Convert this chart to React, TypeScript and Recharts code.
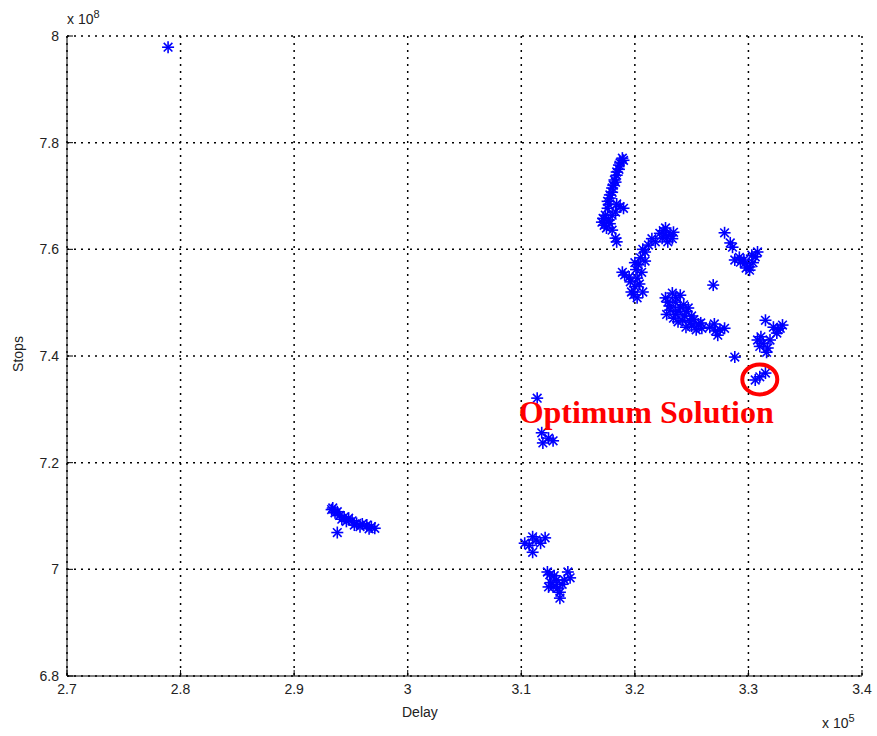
import React from "react";
import {
  ScatterChart,
  Scatter,
  XAxis,
  YAxis,
  CartesianGrid,
  ReferenceDot,
} from "recharts";

// ── Data (delay in 1e5 units, stops in 1e8 units) ──────────────────

const xTicks = [2.7, 2.8, 2.9, 3, 3.1, 3.2, 3.3, 3.4];
const yTicks = [6.8, 7, 7.2, 7.4, 7.6, 7.8, 8];

const lonePoint = [[2.789, 7.979]];

const leftCluster = [
  [2.933, 7.112], [2.936, 7.106], [2.94, 7.101], [2.944, 7.098],
  [2.948, 7.096], [2.951, 7.091], [2.955, 7.086], [2.96, 7.085],
  [2.964, 7.083], [2.968, 7.08], [2.971, 7.077], [2.938, 7.069],
  [2.946, 7.09], [2.958, 7.08], [2.934, 7.115], [2.938, 7.108],
  [2.942, 7.094], [2.953, 7.083], [2.966, 7.076],
];

const midUpperCluster = [
  [3.114, 7.321], [3.118, 7.256], [3.119, 7.237], [3.128, 7.241],
  [3.124, 7.246],
];

const midLowerCluster = [
  [3.103, 7.049], [3.11, 7.061], [3.121, 7.059], [3.11, 7.032],
  [3.117, 7.049], [3.107, 7.045], [3.113, 7.055],
  [3.123, 6.995], [3.124, 6.967], [3.131, 6.98], [3.134, 6.946],
  [3.141, 6.995], [3.138, 6.98], [3.132, 6.965], [3.128, 6.967],
  [3.134, 6.957], [3.143, 6.984], [3.126, 6.975], [3.136, 6.972],
  [3.129, 6.988], [3.125, 6.99],
];

const tallStreak = [
  [3.19, 7.767], [3.186, 7.758], [3.184, 7.745], [3.184, 7.739],
  [3.183, 7.726], [3.18, 7.715], [3.18, 7.707], [3.178, 7.696],
  [3.176, 7.69], [3.176, 7.677], [3.187, 7.68], [3.19, 7.677],
  [3.18, 7.664], [3.174, 7.664], [3.171, 7.651], [3.172, 7.658],
  [3.175, 7.64], [3.18, 7.636], [3.183, 7.621], [3.184, 7.614],
  [3.178, 7.648], [3.189, 7.771], [3.182, 7.73], [3.178, 7.702],
  [3.187, 7.762], [3.186, 7.75], [3.181, 7.72], [3.177, 7.684],
  [3.183, 7.67], [3.173, 7.645], [3.177, 7.655], [3.184, 7.685],
];

const sCluster = [
  [3.227, 7.64], [3.231, 7.627], [3.224, 7.621], [3.218, 7.614],
  [3.212, 7.608], [3.209, 7.595], [3.205, 7.584], [3.203, 7.571],
  [3.206, 7.557], [3.202, 7.546], [3.191, 7.552], [3.189, 7.557],
  [3.196, 7.539], [3.197, 7.52], [3.202, 7.509], [3.207, 7.52],
  [3.234, 7.632], [3.229, 7.614], [3.228, 7.625], [3.222, 7.63],
  [3.2, 7.53], [3.195, 7.548], [3.215, 7.62], [3.207, 7.6],
  [3.209, 7.578], [3.201, 7.562], [3.204, 7.535], [3.199, 7.515],
  [3.233, 7.62], [3.225, 7.635], [3.2, 7.575],
];

const bigBlob = [
  [3.233, 7.518], [3.24, 7.514], [3.229, 7.501], [3.236, 7.501],
  [3.243, 7.496], [3.231, 7.486], [3.238, 7.484], [3.245, 7.483],
  [3.25, 7.475], [3.234, 7.471], [3.242, 7.467], [3.249, 7.464],
  [3.256, 7.46], [3.245, 7.454], [3.254, 7.449], [3.259, 7.452],
  [3.227, 7.509], [3.236, 7.51], [3.231, 7.494], [3.24, 7.491],
  [3.247, 7.49], [3.236, 7.478], [3.244, 7.475], [3.252, 7.468],
  [3.238, 7.464], [3.25, 7.456], [3.258, 7.462], [3.228, 7.478],
];

const smallBlob = [
  [3.266, 7.454], [3.275, 7.449], [3.279, 7.452], [3.273, 7.439],
  [3.27, 7.46], [3.271, 7.447], [3.269, 7.533],
];

const upperRightCluster = [
  [3.279, 7.631], [3.284, 7.612], [3.286, 7.604], [3.288, 7.58],
  [3.293, 7.576], [3.297, 7.574], [3.301, 7.567], [3.306, 7.586],
  [3.308, 7.595], [3.303, 7.589], [3.298, 7.565], [3.301, 7.561],
  [3.292, 7.585], [3.296, 7.58], [3.304, 7.575],
];

const rightCluster = [
  [3.288, 7.398], [3.315, 7.467], [3.326, 7.449], [3.313, 7.424],
  [3.308, 7.43], [3.317, 7.415], [3.316, 7.407], [3.322, 7.454],
  [3.33, 7.458], [3.325, 7.443], [3.311, 7.436], [3.31, 7.418],
  [3.319, 7.43], [3.328, 7.452],
];

const optimumCluster = [
  [3.306, 7.355], [3.315, 7.368], [3.31, 7.361],
];

const optimumCenter = { x: 3.31, y: 7.356 };
const optimumLabel = { x: 3.21, y: 7.295, text: "Optimum Solution" };

const allPoints = [
  ...lonePoint, ...leftCluster, ...midUpperCluster, ...midLowerCluster,
  ...tallStreak, ...sCluster, ...bigBlob, ...smallBlob,
  ...upperRightCluster, ...rightCluster, ...optimumCluster,
].map(([x, y]) => ({ x, y }));

// ── Marker ─────────────────────────────────────────────────────────

function Asterisk(props: any) {
  const { cx, cy } = props;
  const r = 6;
  const d = r * 0.72;
  return (
    <g stroke="#0000ff" strokeWidth={1.6}>
      <line x1={cx - r} y1={cy} x2={cx + r} y2={cy} />
      <line x1={cx} y1={cy - r} x2={cx} y2={cy + r} />
      <line x1={cx - d} y1={cy - d} x2={cx + d} y2={cy + d} />
      <line x1={cx - d} y1={cy + d} x2={cx + d} y2={cy - d} />
    </g>
  );
}

const tickStyle = { fill: "#222", fontSize: 14, fontFamily: "Liberation Sans, Arial" };

export default function App() {
  return (
    <div style={{ position: "absolute", left: 0, top: 0, width: 877, height: 736, background: "#fff" }}>
      <ScatterChart
        width={877}
        height={736}
        margin={{ top: 36, right: 15, bottom: 30, left: 17 }}
      >
        <CartesianGrid stroke="#000" strokeDasharray="2 5" strokeWidth={1.5} />
        <XAxis
          type="number"
          dataKey="x"
          domain={[2.7, 3.4]}
          ticks={xTicks}
          tick={tickStyle}
          axisLine={{ stroke: "#000" }}
          tickLine={{ stroke: "#000" }}
          tickSize={-6}
          tickMargin={14}
          height={30}
        />
        <YAxis
          type="number"
          dataKey="y"
          domain={[6.8, 8]}
          ticks={yTicks}
          tick={tickStyle}
          axisLine={{ stroke: "#000" }}
          tickLine={{ stroke: "#000" }}
          tickSize={-6}
          tickMargin={14}
          width={50}
        />
        <Scatter data={allPoints} shape={<Asterisk />} isAnimationActive={false} />
        <ReferenceDot
          x={optimumCenter.x}
          y={optimumCenter.y}
          r={1}
          shape={(p: any) => (
            <ellipse cx={p.cx} cy={p.cy} rx={17.5} ry={15} fill="none" stroke="#ff0000" strokeWidth={4} />
          )}
        />
        <ReferenceDot
          x={optimumLabel.x}
          y={optimumLabel.y}
          r={1}
          shape={(p: any) => (
            <text
              x={p.cx}
              y={p.cy}
              textAnchor="middle"
              dominantBaseline="central"
              fill="#ff0000"
              fontFamily="Liberation Serif, Times New Roman, serif"
              fontWeight="bold"
              fontSize={32}
            >
              {optimumLabel.text}
            </text>
          )}
        />
      </ScatterChart>
      <div style={{ position: "absolute", left: 402, top: 704, fontFamily: "Liberation Sans, Arial", fontSize: 14, color: "#222" }}>
        Delay
      </div>
      <div style={{ position: "absolute", left: 0, top: 346, width: 36, textAlign: "center", transform: "rotate(-90deg)", fontFamily: "Liberation Sans, Arial", fontSize: 14, color: "#222" }}>
        Stops
      </div>
      <div style={{ position: "absolute", left: 67, top: 8, fontFamily: "Liberation Sans, Arial", fontSize: 14, color: "#222" }}>
        x 10<sup style={{ fontSize: 11 }}>8</sup>
      </div>
      <div style={{ position: "absolute", left: 822, top: 712, fontFamily: "Liberation Sans, Arial", fontSize: 14, color: "#222" }}>
        x 10<sup style={{ fontSize: 11 }}>5</sup>
      </div>
    </div>
  );
}
